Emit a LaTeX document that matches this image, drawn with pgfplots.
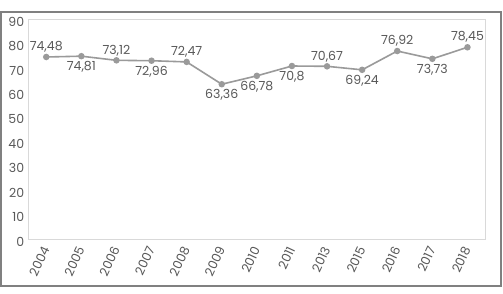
\documentclass[border=0pt]{standalone}
\usepackage{fontspec}
\setmainfont{Poppins}
\usepackage{pgfplots}
\usepackage{pgfplotstable}
\pgfplotsset{compat=1.18}
\definecolor{txt}{HTML}{595959}
\definecolor{ln}{HTML}{9A9A9A}
\definecolor{frameout}{HTML}{808080}
\definecolor{framein}{HTML}{D9D9D9}
\pgfplotstableread{
x year y lab pos
0 2004 74.48 74,48 10
1 2005 74.81 74,81 -11
2 2006 73.12 73,12 10
3 2007 72.96 72,96 -11
4 2008 72.47 72,47 10
5 2009 63.36 63,36 -11
6 2010 66.78 66,78 -11
7 2011 70.8 70,8 -11
8 2013 70.67 70,67 10
9 2015 69.24 69,24 -11
10 2016 76.92 76,92 10
11 2017 73.73 73,73 -11
12 2018 78.45 78,45 10
}\datatable
\begin{document}
\begin{tikzpicture}[x=1pt,y=1pt]
\useasboundingbox[fill=white] (0,0) rectangle (503,294);
\draw[frameout, line width=1.8pt] (1,8) rectangle (501,281.7);
\begin{axis}[
  at={(28.7pt,54.7pt)}, anchor=south west,
  scale only axis, width=456.3pt, height=220.3pt,
  xmin=-0.5, xmax=12.5, ymin=0, ymax=90,
  xtick={0,...,12},
  xticklabels={2004,2005,2006,2007,2008,2009,2010,2011,2013,2015,2016,2017,2018},
  ytick={0,10,...,90},
  major tick length=0pt,
  axis line style={framein, line width=0.8pt},
  tick label style={font=\fontsize{12.5}{14}\selectfont, text=txt},
  /pgf/number format/assume math mode=true,
  yticklabel style={xshift=-1pt, yshift=-2.5pt},
  xticklabel style={yshift=-5pt, xshift=1pt, rotate=65, anchor=east},
  clip=false,
]
\addplot[ln, line width=1.6pt, mark=*, mark size=2.4pt, mark options={fill=ln, draw=ln},
  nodes near coords, point meta=explicit symbolic,
  visualization depends on={\thisrow{pos}\as\pos},
  every node near coord/.append style={anchor=center, yshift=\pos pt, font=\fontsize{12.5}{14}\selectfont, text=txt, inner sep=0pt}]
  table[x=x, y=y, meta=lab] {\datatable};
\end{axis}
\end{tikzpicture}
\end{document}
